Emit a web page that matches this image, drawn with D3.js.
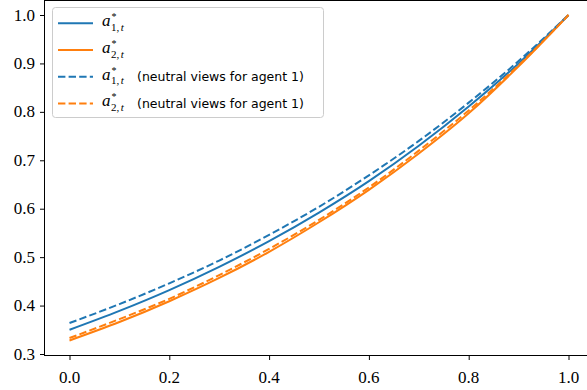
<!DOCTYPE html>
<html>
<head>
<meta charset="utf-8">
<script src="https://cdn.jsdelivr.net/npm/d3@7"></script>
<style>
  html, body { margin: 0; padding: 0; background: #fff; }
  svg { display: block; }
</style>
</head>
<body>
<div id="chart"></div>
<script>
// values, t = 0, 0.1, ..., 1
const tValues = [0, 0.1, 0.2, 0.3, 0.4, 0.5, 0.6, 0.7, 0.8, 0.9, 1.0];
const a1 = [0.350, 0.389, 0.432, 0.480, 0.533, 0.592, 0.657, 0.730, 0.811, 0.900, 1.000];
const a2 = [0.328, 0.366, 0.409, 0.457, 0.511, 0.572, 0.639, 0.714, 0.797, 0.894, 1.000];
const a1Neutral = [0.364, 0.403, 0.446, 0.493, 0.546, 0.604, 0.669, 0.740, 0.819, 0.905, 1.000];
const a2Neutral = [0.333, 0.372, 0.414, 0.463, 0.517, 0.577, 0.644, 0.720, 0.803, 0.896, 1.000];
const xTicks = [0, 0.2, 0.4, 0.6, 0.8, 1.0];
const yTicks = [0.3, 0.4, 0.5, 0.6, 0.7, 0.8, 0.9, 1.0];

const width = 587, height = 390;
const blue = '#1f77b4', orange = '#ff7f0e';
const serif = "'Liberation Serif'";
const sans = "'DejaVu Sans'";

const series = [
  { name: '1', values: a1, color: blue, dash: null, extra: '' },
  { name: '2', values: a2, color: orange, dash: null, extra: '' },
  { name: '1', values: a1Neutral, color: blue, dash: '7.4,3.2', extra: '(neutral views for agent 1)' },
  { name: '2', values: a2Neutral, color: orange, dash: '7.4,3.2', extra: '(neutral views for agent 1)' }
];

const x = d3.scaleLinear().domain([0, 1]).range([69.5, 568.5]);
const y = d3.scaleLinear().domain([0.3, 1.0]).range([354, 15]);

const frame = { left: 44.5, right: 594, top: 0.5, bottom: 355.5 };

const svg = d3.select('#chart').append('svg')
  .attr('width', width)
  .attr('height', height);

// curves
const line = d3.line()
  .x((d, i) => x(tValues[i]))
  .y(d => y(d))
  .curve(d3.curveMonotoneX);

svg.append('g')
  .attr('fill', 'none')
  .attr('stroke-width', 2)
.selectAll('path')
  .data(series)
  .join('path')
    .attr('stroke', d => d.color)
    .attr('stroke-dasharray', d => d.dash)
    .attr('d', d => line(d.values));

// axes: ticks from d3, labels drawn as our own serif texts
const xAxis = svg.append('g')
  .attr('transform', `translate(0,${frame.bottom})`)
  .call(d3.axisBottom(x).tickValues(xTicks).tickFormat('').tickSize(4.5));
const yAxis = svg.append('g')
  .attr('transform', `translate(${frame.left},0)`)
  .call(d3.axisLeft(y).tickValues(yTicks).tickFormat('').tickSize(4.5));

[xAxis, yAxis].forEach(axis => {
  axis.select('.domain').remove();
  axis.selectAll('line').attr('stroke', '#000').attr('stroke-width', 1);
  axis.selectAll('text').remove();
});

const fmt = d3.format('.1f');
svg.append('g')
  .selectAll('text')
  .data(xTicks)
  .join('text')
    .attr('x', d => x(d))
    .attr('y', 383)
    .attr('text-anchor', 'middle')
    .style('font-family', serif)
    .style('font-size', '17px')
    .text(fmt);
svg.append('g')
  .selectAll('text')
  .data(yTicks)
  .join('text')
    .attr('x', 35)
    .attr('y', d => y(d) + 5.5)
    .attr('text-anchor', 'end')
    .style('font-family', serif)
    .style('font-size', '17px')
    .text(fmt);

// frame (spines)
svg.append('rect')
  .attr('x', frame.left)
  .attr('y', frame.top)
  .attr('width', frame.right - frame.left)
  .attr('height', frame.bottom - frame.top)
  .attr('fill', 'none')
  .attr('stroke', '#000')
  .attr('stroke-width', 1);

// legend
const legend = svg.append('g').attr('transform', 'translate(52,7)');
legend.append('rect')
  .attr('x', 0.5).attr('y', 0.5)
  .attr('width', 271).attr('height', 110)
  .attr('rx', 3)
  .attr('fill', '#fff').attr('fill-opacity', 0.8)
  .attr('stroke', '#cccccc').attr('stroke-width', 1);

const entry = legend.selectAll('g.entry')
  .data(series)
  .join('g')
    .attr('class', 'entry')
    .attr('transform', (d, i) => `translate(0,${16.3 + i * 26.7})`);

entry.append('line')
  .attr('x1', 6).attr('x2', 41)
  .attr('stroke', d => d.color)
  .attr('stroke-width', 2)
  .attr('stroke-dasharray', d => d.dash);

// a^*_{i,t}
entry.append('text')
  .attr('x', 50).attr('y', 3)
  .style('font-family', serif).style('font-size', '17px')
  .style('font-style', 'italic')
  .text('a');
entry.append('text')
  .attr('x', 59.5).attr('y', -3)
  .style('font-family', serif).style('font-size', '10px')
  .text('*');
const sub = entry.append('text')
  .attr('x', 59).attr('y', 7.5)
  .style('font-family', serif).style('font-size', '11px');
sub.append('tspan').text(d => d.name + ',');
sub.append('tspan').attr('dx', 1.5).style('font-style', 'italic').text('t');

entry.filter(d => d.extra)
  .append('text')
  .attr('x', 85)
  .attr('y', 4.5)
  .style('font-family', sans)
  .style('font-size', '12.5px')
  .text(d => d.extra);
</script>
</body>
</html>
